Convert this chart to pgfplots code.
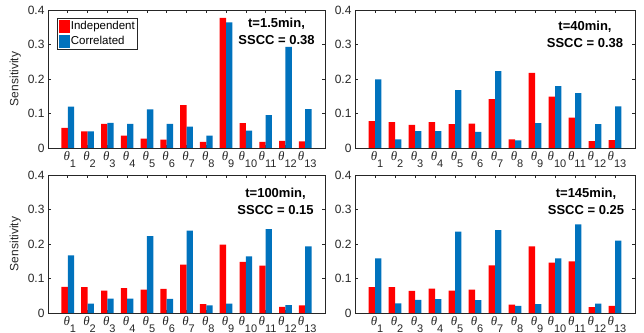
\documentclass[border=0pt]{standalone}
\usepackage{pgfplots}
\pgfplotsset{compat=1.18}
\usepackage{fontspec}
\setmainfont{Liberation Sans}
\newfontfamily\serifit{Liberation Serif}
\definecolor{mred}{rgb}{1,0,0}
\definecolor{mblue}{rgb}{0,0.447,0.741}
\definecolor{axgray}{rgb}{0.15,0.15,0.15}
\newcommand\thl[1]{{\serifit\itshape\fontsize{13}{13}\selectfont θ}\raisebox{-1.1ex}{\fontsize{11}{11}\selectfont #1}}
\pgfplotsset{
  mystyle/.style={
    scale only axis, width=277pt, height=138pt,
    xmin=0, xmax=14, ymin=0, ymax=0.4,
    ytick={0,0.1,0.2,0.3,0.4},
    xtick={1,2,3,4,5,6,7,8,9,10,11,12,13},
    xticklabels={\thl{1},\thl{2},\thl{3},\thl{4},\thl{5},\thl{6},\thl{7},\thl{8},\thl{9},\thl{10},\thl{11},\thl{12},\thl{13}},
    tick align=inside, major tick length=3pt,
    axis line style={axgray, line width=0.6pt},
    every tick/.style={axgray, line width=0.6pt},
    ticklabel style={font=\fontsize{12}{14}\selectfont, text=axgray},
    xticklabel style={yshift=0pt, anchor=north, xshift=2pt},
    yticklabel style={/pgf/number format/fixed, /pgf/number format/precision=1},
    /pgf/number format/assume math mode=true,
    ylabel style={font=\fontsize{12}{14}\selectfont, text=axgray},
    clip=false,
  },
  redbar/.style={ybar, bar width=0.32, bar shift=-0.16, fill=mred, draw=none},
  bluebar/.style={ybar, bar width=0.32, bar shift=0.16, fill=mblue, draw=none},
}
\tikzset{anno/.style={font=\bfseries\fontsize{13}{17}\selectfont, align=center, text=black}}
\begin{document}
\begin{tikzpicture}
% Panel 1
\begin{axis}[mystyle, at={(48pt,184pt)}, anchor=south west, ylabel={Sensitivity},
  legend style={at={(rel axis cs:0.033,0.94)}, anchor=north west, draw=axgray, line width=0.5pt,
    font=\fontsize{11.5}{13}\selectfont, inner sep=1.5pt, row sep=1.5pt, nodes={inner sep=1pt}},
  legend cell align=left]
\addplot[redbar, legend image code/.code={\fill[mred] (0pt,-6.5pt) rectangle (11pt,6.5pt);}] coordinates {(1,0.058)(2,0.048)(3,0.070)(4,0.036)(5,0.027)(6,0.024)(7,0.124)(8,0.018)(9,0.377)(10,0.072)(11,0.018)(12,0.021)(13,0.019)};
\addplot[bluebar, legend image code/.code={\fill[mblue] (0pt,-6.5pt) rectangle (11pt,6.5pt);}] coordinates {(1,0.120)(2,0.048)(3,0.073)(4,0.070)(5,0.112)(6,0.070)(7,0.062)(8,0.036)(9,0.364)(10,0.050)(11,0.095)(12,0.293)(13,0.113)};
\legend{Independent, Correlated}
\node[anno] at (axis cs:11.55,0.337) {t=1.5min,\\SSCC = 0.38};
\end{axis}
% Panel 2
\begin{axis}[mystyle, at={(355pt,184pt)}, anchor=south west, width=280pt]
\addplot[redbar] coordinates {(1,0.078)(2,0.075)(3,0.067)(4,0.075)(5,0.069)(6,0.071)(7,0.142)(8,0.025)(9,0.218)(10,0.149)(11,0.088)(12,0.020)(13,0.023)};
\addplot[bluebar] coordinates {(1,0.199)(2,0.025)(3,0.049)(4,0.049)(5,0.168)(6,0.047)(7,0.223)(8,0.022)(9,0.072)(10,0.179)(11,0.159)(12,0.069)(13,0.121)};
\node[anno] at (axis cs:11.5,0.33) {t=40min,\\SSCC = 0.38};
\end{axis}
% Panel 3
\begin{axis}[mystyle, at={(48pt,19pt)}, anchor=south west, ylabel={Sensitivity}]
\addplot[redbar] coordinates {(1,0.076)(2,0.075)(3,0.065)(4,0.072)(5,0.068)(6,0.070)(7,0.140)(8,0.026)(9,0.198)(10,0.148)(11,0.137)(12,0.018)(13,0.022)};
\addplot[bluebar] coordinates {(1,0.167)(2,0.027)(3,0.042)(4,0.042)(5,0.223)(6,0.041)(7,0.239)(8,0.022)(9,0.027)(10,0.164)(11,0.243)(12,0.023)(13,0.193)};
\node[anno] at (axis cs:11.5,0.325) {t=100min,\\SSCC = 0.15};
\end{axis}
% Panel 4
\begin{axis}[mystyle, at={(355pt,19pt)}, anchor=south west, width=280pt]
\addplot[redbar] coordinates {(1,0.075)(2,0.075)(3,0.064)(4,0.071)(5,0.065)(6,0.068)(7,0.138)(8,0.024)(9,0.193)(10,0.146)(11,0.150)(12,0.017)(13,0.021)};
\addplot[bluebar] coordinates {(1,0.158)(2,0.028)(3,0.038)(4,0.040)(5,0.236)(6,0.037)(7,0.240)(8,0.021)(9,0.026)(10,0.158)(11,0.257)(12,0.027)(13,0.210)};
\node[anno] at (axis cs:11.55,0.325) {t=145min,\\SSCC = 0.25};
\end{axis}
\pgfresetboundingbox
\path (0pt,0pt) rectangle (644pt,332pt);
\end{tikzpicture}
\end{document}
